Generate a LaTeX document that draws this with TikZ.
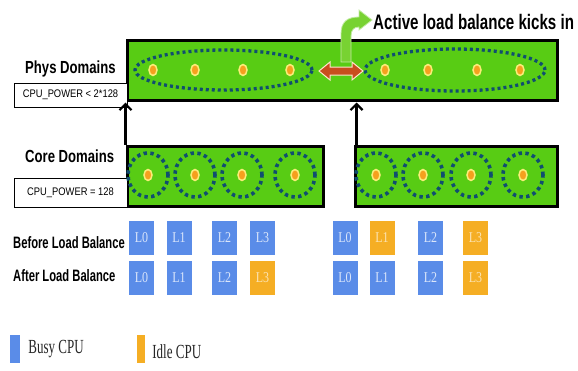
\documentclass[tikz,border=0pt]{standalone}
\usepackage{fontspec}
\usepackage{graphicx}
\setmainfont{Liberation Serif}
\setsansfont{Liberation Sans}
\usetikzlibrary{arrows.meta,positioning}
\definecolor{domgreen}{RGB}{88,204,20}
\definecolor{ringblue}{RGB}{16,78,112}
\definecolor{cpuorange}{RGB}{245,160,30}
\definecolor{cpuyellow}{RGB}{250,236,120}
\definecolor{busyblue}{RGB}{90,140,232}
\definecolor{idleorange}{RGB}{245,174,36}
\definecolor{kickgreen}{RGB}{120,210,50}
\definecolor{swaprust}{RGB}{200,78,30}
\newcommand{\narrowtext}[2]{\scalebox{#1}[1]{#2}}
\tikzset{
  dombox/.style={draw=black,line width=3pt,fill=domgreen,inner sep=0pt,minimum height=60pt},
  powerbox/.style={draw=black,line width=0.8pt,fill=white,inner sep=0pt,minimum width=113pt,
    font=\sffamily\fontsize{11}{12}\selectfont},
  lbl/.style={anchor=base west,inner sep=0pt,font=\sffamily\bfseries\fontsize{17.5}{18}\selectfont},
  rowlbl/.style={anchor=base west,inner sep=0pt,font=\sffamily\bfseries\fontsize{16.5}{17}\selectfont},
  dotring/.style={draw=ringblue,line width=3.3pt,dash pattern=on 3pt off 3pt},
  cpudot/.style={draw=cpuyellow,line width=1.5pt,fill=cpuorange},
  cpubox/.style={minimum width=25pt,minimum height=34pt,inner sep=0pt,
    font=\fontsize{15}{15}\selectfont},
  busy/.style={cpubox,fill=busyblue,text=white!78!busyblue},
  idle/.style={cpubox,fill=idleorange,text=white!65!idleorange},
  keytxt/.style={inner sep=0pt,font=\fontsize{20}{20}\selectfont,text=black!85}
}
\begin{document}
\begin{tikzpicture}[x=1pt,y=-1pt]
  \useasboundingbox (0,0) rectangle (578,370);
  % domains
  \node[dombox,minimum width=430pt] (phys) at (342,70) {};
  \node[dombox,minimum width=196pt] (coreL) at (225,176) {};
  \node[dombox,minimum width=202pt] (coreR) at (456,176) {};
  \node[powerbox,minimum height=24pt] (physPower) at (70.5,95) {\narrowtext{0.85}{CPU\_POWER < 2*128}};
  \node[powerbox,minimum height=29pt] (corePower) at (70.5,192.5) {\narrowtext{0.85}{CPU\_POWER = 128}};
  \node[lbl] (physLbl) at (25,73) {\narrowtext{0.75}{Phys Domains}};
  \node[lbl] (coreLbl) at (25,162) {\narrowtext{0.75}{Core Domains}};
  \draw[dotring]
    (223.5,70) ellipse [x radius=88.5pt, y radius=20pt]
    (455,70) ellipse [x radius=90pt, y radius=21pt];
  \draw[dotring,line width=3.6pt,dash pattern=on 3.4pt off 3.4pt]
    (148,175) ellipse [x radius=20pt, y radius=22pt]
    (195,175) ellipse [x radius=20pt, y radius=22pt]
    (242,175) ellipse [x radius=20pt, y radius=22pt]
    (295,175) ellipse [x radius=20pt, y radius=22pt]
    (376,175) ellipse [x radius=20pt, y radius=22pt]
    (423,175) ellipse [x radius=20pt, y radius=22pt]
    (471,175) ellipse [x radius=20pt, y radius=22pt]
    (523,175) ellipse [x radius=20pt, y radius=22pt];
  \draw[cpudot]
    (153,70) ellipse [x radius=4pt, y radius=5.5pt]
    (195,70) ellipse [x radius=4pt, y radius=5.5pt]
    (243,70) ellipse [x radius=4pt, y radius=5.5pt]
    (290,70) ellipse [x radius=4pt, y radius=5.5pt]
    (385,70) ellipse [x radius=4pt, y radius=5.5pt]
    (428,70) ellipse [x radius=4pt, y radius=5.5pt]
    (477,70) ellipse [x radius=4pt, y radius=5.5pt]
    (520,70) ellipse [x radius=4pt, y radius=5.5pt]
    (148,175) ellipse [x radius=4pt, y radius=5.5pt]
    (195,175) ellipse [x radius=4pt, y radius=5.5pt]
    (242,175) ellipse [x radius=4pt, y radius=5.5pt]
    (295,175) ellipse [x radius=4pt, y radius=5.5pt]
    (376,175) ellipse [x radius=4pt, y radius=5.5pt]
    (423,175) ellipse [x radius=4pt, y radius=5.5pt]
    (471,175) ellipse [x radius=4pt, y radius=5.5pt]
    (523,175) ellipse [x radius=4pt, y radius=5.5pt];
  % swap arrow and kick arrow
  \draw[fill=swaprust,draw=white!80!orange,line width=1pt]
    (319,71) -- (330,62) -- (330,67) -- (352,67) -- (352,62) -- (363,71)
    -- (352,80) -- (352,75) -- (330,75) -- (330,80) -- cycle;
  \draw[fill=kickgreen,draw=white!55!kickgreen,line width=0.8pt]
    (341,62) -- (341,34) .. controls (341,22) and (347,17) .. (359,17) -- (359,10)
    -- (372,20) -- (359,30) -- (359,27) .. controls (354,27) and (351,30) .. (351,36)
    -- (351,62) -- cycle;
  \node[lbl,font=\sffamily\bfseries\fontsize{21}{22}\selectfont] (kickLbl) at (373,29)
    {\narrowtext{0.72}{Active load balance kicks in}};
  \begin{scope}[-{Straight Barb[length=6pt,width=12pt]},line width=2.2pt,shorten >=1pt]
    \draw (coreL.north west) to (coreL.north west |- phys.south);
    \draw ([xshift=3pt]coreR.north west) to ([xshift=3pt]coreR.north west |- phys.south);
  \end{scope}
  % load balance rows
  \node[rowlbl] (beforeLbl) at (13,248) {\narrowtext{0.68}{Before Load Balance}};
  \node[rowlbl] (afterLbl) at (13,281) {\narrowtext{0.68}{After Load Balance}};
  \draw
    (141.5,238) node[busy] (preL0) {\narrowtext{0.8}{L0}}
    (179,238) node[busy] (preL1) {\narrowtext{0.8}{L1}}
    (224.5,238) node[busy] (preL2) {\narrowtext{0.8}{L2}}
    (262.5,238) node[busy] (preL3) {\narrowtext{0.8}{L3}}
    (345,238) node[busy] (preR0) {\narrowtext{0.8}{L0}}
    (382,238) node[idle] (preR1) {\narrowtext{0.8}{L1}}
    (430.5,238) node[busy] (preR2) {\narrowtext{0.8}{L2}}
    (475.5,238) node[idle] (preR3) {\narrowtext{0.8}{L3}}
    (141.5,278) node[busy] (postL0) {\narrowtext{0.8}{L0}}
    (179,278) node[busy] (postL1) {\narrowtext{0.8}{L1}}
    (224.5,278) node[busy] (postL2) {\narrowtext{0.8}{L2}}
    (262.5,278) node[idle] (postL3) {\narrowtext{0.8}{L3}}
    (345,278) node[busy] (postR0) {\narrowtext{0.8}{L0}}
    (382,278) node[busy] (postR1) {\narrowtext{0.8}{L1}}
    (430.5,278) node[busy] (postR2) {\narrowtext{0.8}{L2}}
    (475.5,278) node[idle] (postR3) {\narrowtext{0.8}{L3}};
  % legend
  \node[fill=busyblue,minimum width=10pt,minimum height=28pt,inner sep=0pt] (keyBusy) at (15,349) {};
  \node[fill=idleorange,minimum width=8pt,minimum height=28pt,inner sep=0pt] (keyIdle) at (141,349) {};
  \node[keytxt,right=8pt of keyBusy] (busyTxt) {\narrowtext{0.65}{Busy CPU}};
  \node[keytxt,right=7pt of keyIdle,yshift=-3pt] (idleTxt) {\narrowtext{0.65}{Idle CPU}};
\end{tikzpicture}
\end{document}
